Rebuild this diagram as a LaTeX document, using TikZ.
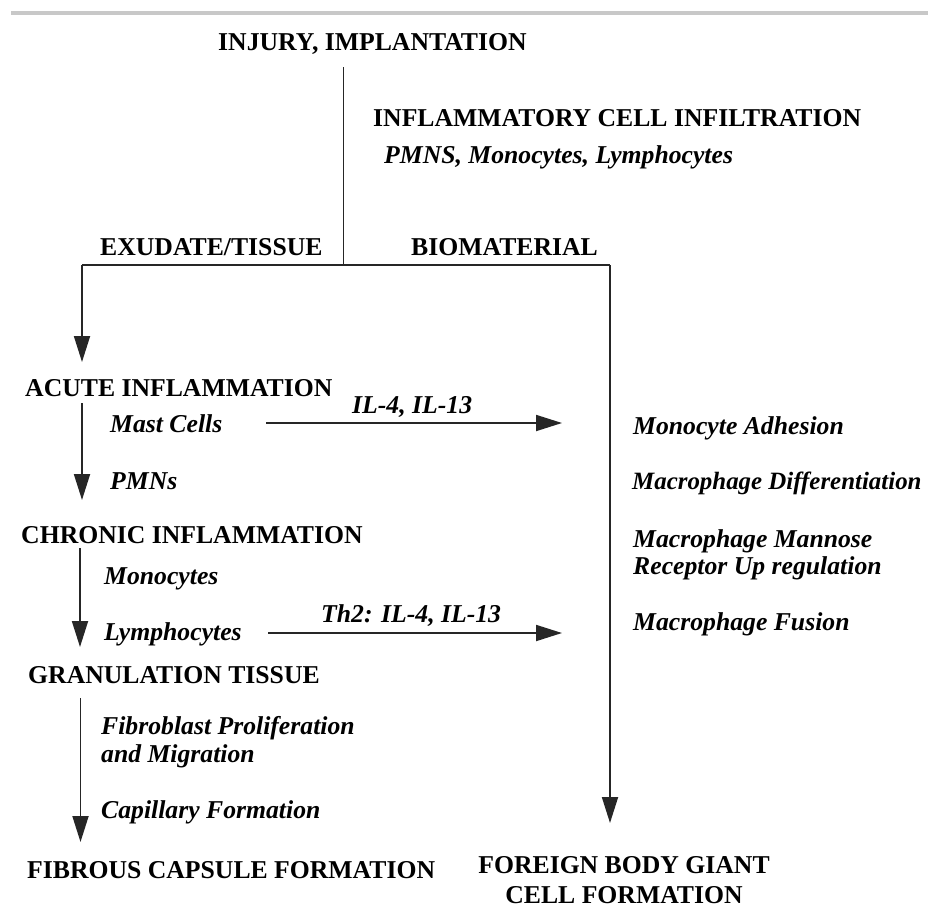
\documentclass[tikz,border=0pt]{standalone}
\usepackage{fontspec}
\setmainfont{Liberation Serif}
\usetikzlibrary{arrows.meta}
\begin{document}
\begin{tikzpicture}[x=1pt,y=-1pt,
  txt/.style={inner sep=0pt,anchor=base west,font=\fontsize{25.7}{28}\selectfont\bfseries},
  itx/.style={inner sep=0pt,anchor=base west,font=\fontsize{25.7}{28}\selectfont\bfseries\itshape},
  ctx/.style={inner sep=0pt,anchor=base,align=center,font=\fontsize{25.7}{30}\selectfont\bfseries},
  ln/.style={line width=1.8pt,black!85},
  arr/.style={ln,-{Triangle[length=26pt,width=16pt]}}]
\useasboundingbox (0,0) rectangle (928,910);
\fill[white] (0,0) rectangle (928,910);
% top rule
\coordinate (ruleL) at (11,13);
\coordinate (ruleR) at (928,13);
\draw[line width=4pt,color={rgb,255:red,200;green,200;blue,200}] (ruleL) -- (ruleR);

% texts
\node[txt] (injury) at (218,50) {INJURY, IMPLANTATION};
\node[txt] (infil) at (373,126) {INFLAMMATORY CELL INFILTRATION};
\node[itx] (pmns) at (384,163) {PMNS, Monocytes, Lymphocytes};
\node[txt] (exud) at (100,255) {EXUDATE/TISSUE};
\node[txt] (bio) at (411,255) {BIOMATERIAL};
\node[txt] (acute) at (25,396) {ACUTE INFLAMMATION};
\node[itx] (mast) at (110,432) {Mast Cells};
\node[itx] (il1) at (352,413) {IL-4, IL-13};
\node[itx] (pmn) at (110,489) {PMNs};
\node[txt] (chronic) at (21,543) {CHRONIC INFLAMMATION};
\node[itx] (mono) at (104,584) {Monocytes};
\node[itx] (lymph) at (104,640) {Lymphocytes};
\node[itx] (il2) at (321,622) {Th2: IL-4, IL-13};
\node[txt] (gran) at (28,683) {GRANULATION TISSUE};
\node[itx] (fib) at (101,734) {Fibroblast Proliferation};
\node[itx] (mig) at (101,762) {and Migration};
\node[itx] (cap) at (101,818) {Capillary Formation};
\node[txt] (fibrous) at (27,878) {FIBROUS CAPSULE FORMATION};
\node[ctx] (fbgc) at (624,903) {FOREIGN BODY GIANT\\CELL FORMATION};
\node[itx] (adh) at (633,434) {Monocyte Adhesion};
\node[itx,font=\fontsize{24.9}{28}\selectfont\bfseries\itshape] (diff) at (632,489) {Macrophage Differentiation};
\node[itx] (mann) at (633,547) {Macrophage Mannose};
\node[itx] (rec) at (633,574) {Receptor Up regulation};
\node[itx] (fus) at (633,630) {Macrophage Fusion};

% junction coordinates
\coordinate (top) at (343.5,67);
\coordinate (split) at (343.5,265);
\coordinate (cL) at (82,265);
\coordinate (cR) at (610,265);
\coordinate (tipL) at (82,362);
\coordinate (tipR) at (610,823);
\coordinate (a1s) at (82,403);
\coordinate (a1e) at (82,500);
\coordinate (a2s) at (80,548);
\coordinate (a2e) at (80,647);
\coordinate (a3s) at (80.5,698);
\coordinate (a3e) at (80.5,842);
\coordinate (h1s) at (266,423);
\coordinate (h1e) at (562,423);
\coordinate (h2s) at (268,633);
\coordinate (h2e) at (562,633);

\draw[ln] (top) -- (split);
\draw[ln] (cL) -- (cR);
\draw[arr] (cL) -- (tipL);
\draw[arr] (cR) -- (tipR);
\draw[arr] (a1s) -- (a1e);
\draw[arr] (a2s) -- (a2e);
\draw[arr] (a3s) -- (a3e);
\draw[arr] (h1s) -- (h1e);
\draw[arr] (h2s) -- (h2e);
\end{tikzpicture}
\end{document}
